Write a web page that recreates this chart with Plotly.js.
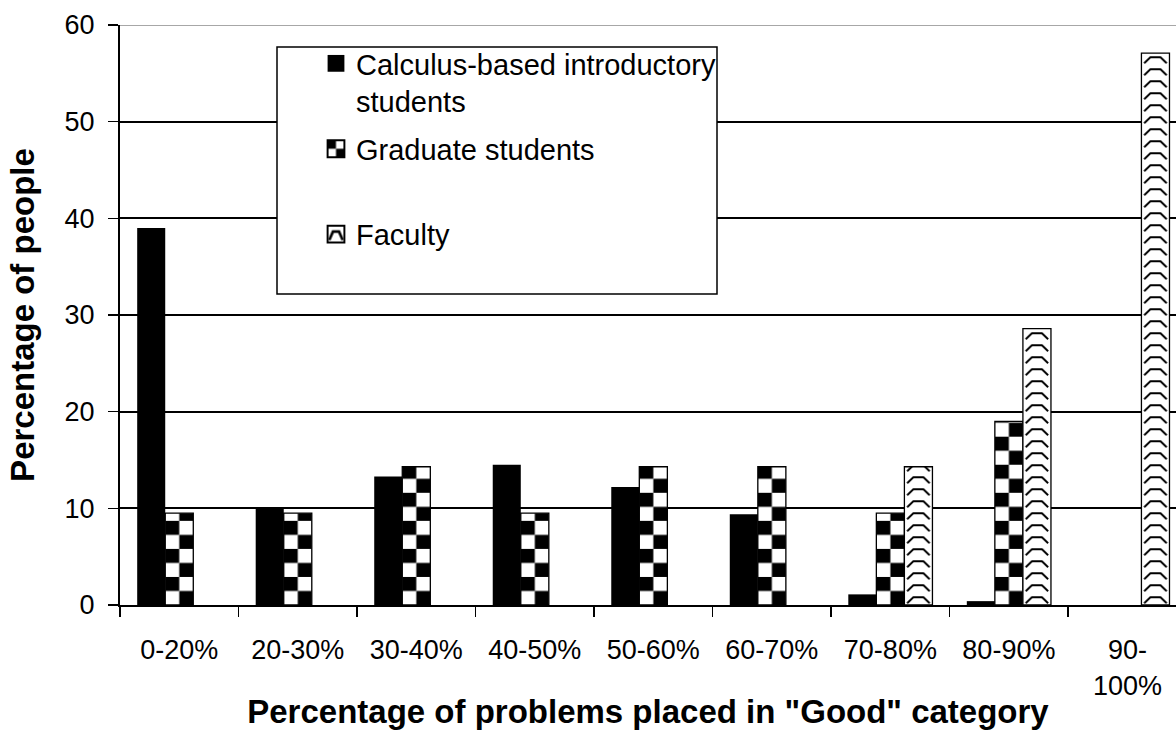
<!DOCTYPE html>
<html><head><meta charset="utf-8">
<script src="https://cdn.plot.ly/plotly-3.0.1.min.js"></script>
<style>html,body{margin:0;padding:0;background:#fff;} #chart{width:1176px;height:750px;}</style>
</head><body><div id="chart"></div>
<script>
// ---- data ----
const categories = ['0-20%','20-30%','30-40%','40-50%','50-60%','60-70%','70-80%','80-90%','90-100%'];
const tickLabels = ['0-20%','20-30%','30-40%','40-50%','50-60%','60-70%','70-80%','80-90%','90-<br>100%'];
const calculusValues = [39.0, 10.0, 13.3, 14.5, 12.2, 9.4, 1.1, 0.4, 0];
const graduateValues = [9.5, 9.5, 14.3, 9.5, 14.3, 14.3, 9.5, 19.0, 0];
const facultyValues  = [0, 0, 0, 0, 0, 0, 14.3, 28.6, 57.1];
const seriesNames = ['Calculus-based introductory<br>students', 'Graduate students<br>\u00a0', 'Faculty'];
const yTicks = [0, 10, 20, 30, 40, 50, 60];
const xTitle = 'Percentage of problems placed in "Good" category';
const yTitle = 'Percentage of people';

const seriesValues = [calculusValues, graduateValues, facultyValues];
const fallbackColors = ['#000000', '#808080', '#ffffff'];
const font = '"Liberation Sans", Arial, Helvetica, sans-serif';

const traces = seriesNames.map((n, i) => ({
  type: 'bar', name: n, x: categories, y: seriesValues[i],
  marker: { color: fallbackColors[i], line: { color: '#000', width: i === 0 ? 0 : 1.3 } },
  legendgroup: 'g' + i, hoverinfo: 'skip'
}));

const L = 120, T = 25, PW = 1056, PH = 580;
const layout = {
  width: 1176, height: 750,
  margin: { l: L, r: 0, t: T, b: 145, pad: 0 },
  paper_bgcolor: '#fff', plot_bgcolor: '#fff',
  font: { family: font, color: '#000', size: 27 },
  barmode: 'group', bargap: 0.29, bargroupgap: 0,
  xaxis: {
    type: 'category', range: [-0.5, 8.41], tickvals: categories, ticktext: tickLabels,
    tickson: 'boundaries', ticks: 'outside', ticklen: 10, tickwidth: 1.5, tickcolor: '#000',
    showline: true, linecolor: '#000', linewidth: 2, showgrid: false, zeroline: false,
    ticklabelstandoff: 20, tickfont: { size: 27 },
    title: { text: xTitle, font: { size: 33, weight: 'bold' }, standoff: 0 }
  },
  yaxis: {
    range: [0, 60], tickvals: yTicks, ticks: 'outside', ticklen: 10, tickwidth: 1.5, tickcolor: '#000',
    showline: true, linecolor: '#000', linewidth: 2, showgrid: true, gridcolor: '#000', gridwidth: 2,
    zeroline: false, ticklabelstandoff: 8, tickfont: { size: 27 },
    title: { text: yTitle, font: { size: 33, weight: 'bold' }, standoff: 20 }
  },
  showlegend: true,
  legend: {
    x: (316 - L) / PW, y: (PH + T - 38) / PH, xanchor: 'left', yanchor: 'top',
    bgcolor: 'rgba(0,0,0,0)', borderwidth: 0, font: { size: 29 }, valign: 'top',
    traceorder: 'grouped', tracegroupgap: 7
  },
  shapes: [
    { type: 'line', xref: 'paper', yref: 'y', x0: 0, x1: 1, y0: 60, y1: 60,
      line: { color: '#8a8a8a', width: 1.5 }, layer: 'below' },
    { type: 'rect', xref: 'paper', yref: 'paper',
      x0: (277 - L) / PW, x1: (717 - L) / PW, y0: (PH + T - 294) / PH, y1: (PH + T - 47) / PH,
      fillcolor: '#fff', line: { color: '#000', width: 1.5 }, layer: 'above' }
  ]
};

Plotly.newPlot('chart', traces, layout, { staticPlot: true, displayModeBar: false }).then(gd => {
  const NS = 'http://www.w3.org/2000/svg';
  const svg = gd.querySelector('svg.main-svg');
  const defs = svg.querySelector('defs');
  let pid = 0;
  function el(tag, attrs, parent) {
    const e = document.createElementNS(NS, tag);
    for (const k in attrs) e.setAttribute(k, attrs[k]);
    if (parent) parent.appendChild(e);
    return e;
  }
  function makePattern(kind, b) {
    const id = 'customPat' + (pid++);
    const w = b.width;
    if (kind === 1) {
      const c = w / 2;
      const p = el('pattern', { id, patternUnits: 'userSpaceOnUse', x: b.x, y: b.y + b.height, width: 2 * c, height: 2 * c }, defs);
      el('rect', { x: 0, y: 0, width: 2 * c, height: 2 * c, fill: '#fff' }, p);
      el('rect', { x: 0, y: 0, width: c, height: c, fill: '#000' }, p);
      el('rect', { x: c, y: c, width: c, height: c, fill: '#000' }, p);
    } else {
      const h = Math.min(12, w);
      const p = el('pattern', { id, patternUnits: 'userSpaceOnUse', x: b.x, y: b.y + b.height, width: w, height: h }, defs);
      el('rect', { x: 0, y: 0, width: w, height: h, fill: '#fff' }, p);
      el('path', { d: `M${w*0.1},${h*0.85} L${w*0.32},${h*0.35} L${w*0.68},${h*0.35} L${w*0.9},${h*0.85}`,
        fill: 'none', stroke: '#000', 'stroke-width': Math.max(1.2, h * 0.16) }, p);
    }
    return id;
  }
  gd.querySelectorAll('.barlayer .trace').forEach((tr, ti) => {
    if (ti === 0) return;
    tr.querySelectorAll('path').forEach(p => {
      const b = p.getBBox();
      if (b.height < 1 || b.width < 1) { p.style.strokeWidth = '0px'; return; }
      p.style.fill = 'url(#' + makePattern(ti, b) + ')';
    });
  });
  gd.querySelectorAll('.legend .traces').forEach((tr, ti) => {
    tr.querySelectorAll('.legendpoints path').forEach(p => {
      const t = p.getAttribute('transform') || '';
      p.setAttribute('transform', t + ' scale(1.4)');
      if (ti === 0) return;
      const b = p.getBBox();
      p.style.fill = 'url(#' + makePattern(ti, b) + ')';
      p.style.stroke = '#000';
      p.style.strokeWidth = '1.4px';
    });
  });
});
</script>
</body></html>
